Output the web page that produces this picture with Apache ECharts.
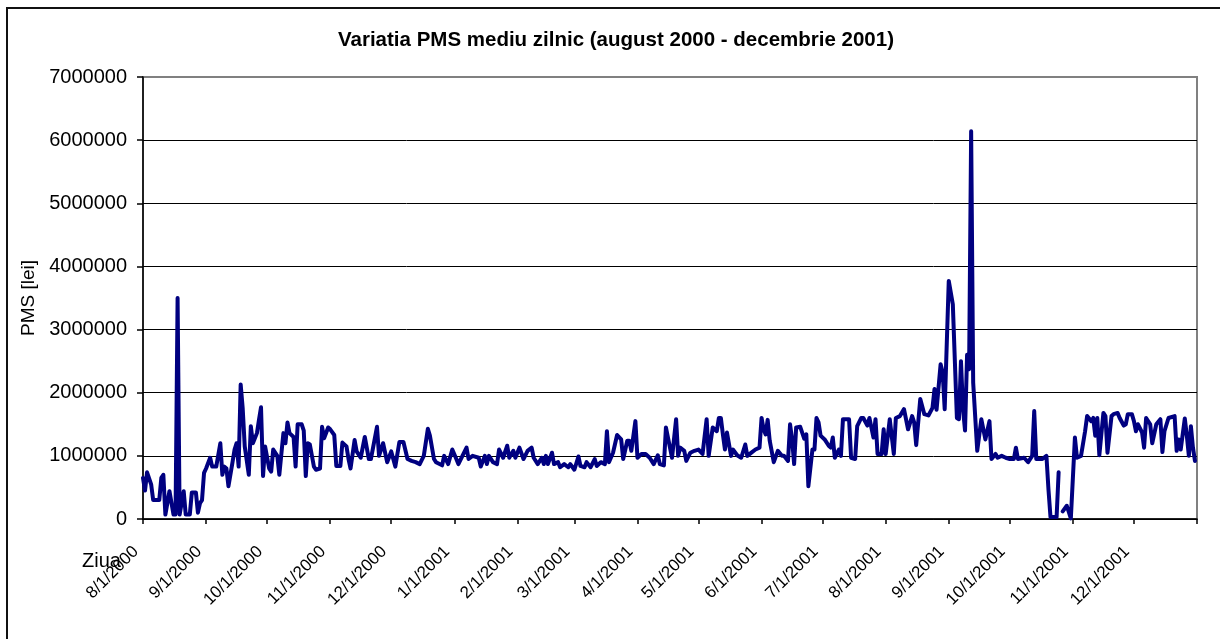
<!DOCTYPE html>
<html>
<head>
<meta charset="utf-8">
<script src="https://cdn.jsdelivr.net/npm/echarts@6/dist/echarts.min.js"></script>
<style>
  html, body { margin: 0; padding: 0; background: #fff; }
  #chart { width: 1220px; height: 639px; }
</style>
</head>
<body>
<div id="chart"></div>
<script>
// days counted from 8/1/2000 (index 0), values in lei
var days = [
  0, 1, 2, 4, 5, 8, 9, 10, 11, 13, 15, 16, 17, 18, 20, 21, 23, 24, 26, 27,
  28, 29, 30, 31, 33, 34, 36, 38, 39, 40, 41, 42, 44, 45, 46, 47, 48, 49, 50, 52,
  53, 54, 56, 57, 58, 59, 60, 62, 63, 64, 66, 67, 69, 70, 71, 72, 74, 75, 76, 78,
  79, 80, 81, 82, 84, 85, 87, 88, 89, 91, 92, 94, 95, 97, 98, 100, 101, 102, 104, 105,
  107, 109, 111, 112, 115, 116, 118, 120, 122, 124, 126, 128, 130, 132, 134, 136, 138, 140, 141, 143,
  144, 147, 148, 150, 152, 154, 155, 157, 159, 160, 162, 165, 166, 168, 169, 170, 172, 174, 175, 177,
  179, 180, 182, 183, 185, 187, 189, 191, 192, 194, 196, 197, 198, 199, 201, 202, 204, 205, 207, 209,
  210, 212, 214, 215, 217, 218, 220, 222, 223, 225, 227, 228, 229, 231, 233, 235, 236, 238, 239, 240,
  242, 243, 245, 247, 249, 251, 253, 254, 256, 257, 258, 260, 262, 263, 264, 266, 267, 269, 271, 273,
  275, 277, 278, 280, 282, 283, 284, 285, 286, 287, 289, 290, 292, 294, 296, 297, 299, 301, 303, 304,
  305, 306, 307, 308, 310, 312, 314, 315, 317, 318, 319, 320, 321, 323, 325, 326, 327, 329, 330, 331,
  332, 333, 335, 337, 338, 339, 340, 342, 343, 344, 347, 348, 350, 351, 353, 354, 356, 357, 359, 360,
  361, 363, 364, 365, 367, 369, 370, 372, 374, 376, 378, 379, 380, 382, 384, 386, 388, 389, 390, 392,
  393, 394, 396, 398, 400, 401, 402, 403, 404, 405, 406, 407, 408, 410, 412, 414, 416, 417, 419, 420,
  422, 424, 426, 428, 429, 430, 433, 435, 437, 438, 439, 442, 444, 445, 446, 449, 450, 451, 452, 454,
  456, 458, 459, 461, 463, 464, 466, 467, 468, 469, 470, 472, 473, 474, 476, 477, 479, 480, 482, 483,
  484, 486, 487, 488, 489, 491, 492, 493, 495, 496, 498, 500, 501, 502, 504, 507, 508, 509, 510, 512,
  513, 514, 515, 516, 517
];

var pms = [
  650000, 450000, 740000, 550000, 300000, 300000, 650000, 700000, 70000, 440000, 70000, 70000, 3500000, 70000, 440000, 70000, 70000, 420000, 420000, 100000,
  250000, 300000, 730000, 800000, 970000, 830000, 830000, 1200000, 700000, 830000, 800000, 520000, 900000, 1100000, 1200000, 830000, 2130000, 1750000, 1150000, 700000,
  1470000, 1200000, 1360000, 1570000, 1770000, 680000, 1150000, 800000, 750000, 1100000, 1000000, 700000, 1360000, 1200000, 1530000, 1360000, 1300000, 830000, 1500000, 1500000,
  1400000, 680000, 1200000, 1180000, 830000, 780000, 800000, 1460000, 1280000, 1450000, 1420000, 1330000, 840000, 840000, 1210000, 1150000, 950000, 800000, 1250000, 1070000,
  970000, 1300000, 950000, 950000, 1460000, 1000000, 1200000, 900000, 1070000, 830000, 1220000, 1220000, 950000, 920000, 900000, 870000, 1000000, 1430000, 1320000, 950000,
  900000, 850000, 1000000, 870000, 1100000, 950000, 870000, 1000000, 1130000, 950000, 1000000, 970000, 830000, 1000000, 870000, 1000000, 900000, 870000, 1100000, 970000,
  1160000, 970000, 1080000, 970000, 1130000, 950000, 1080000, 1130000, 970000, 870000, 970000, 870000, 1000000, 870000, 1050000, 870000, 900000, 820000, 870000, 820000,
  870000, 780000, 990000, 840000, 820000, 900000, 820000, 950000, 840000, 900000, 870000, 1390000, 900000, 1050000, 1330000, 1260000, 950000, 1240000, 1240000, 1080000,
  1550000, 970000, 1030000, 1030000, 970000, 870000, 1010000, 870000, 850000, 1450000, 1290000, 970000, 1580000, 1000000, 1130000, 1080000, 920000, 1050000, 1080000, 1100000,
  1030000, 1580000, 1000000, 1450000, 1390000, 1600000, 1600000, 1340000, 1100000, 1370000, 1000000, 1100000, 1010000, 970000, 1180000, 1000000, 1050000, 1100000, 1130000, 1600000,
  1420000, 1340000, 1570000, 1240000, 900000, 1080000, 1000000, 1000000, 920000, 1500000, 1260000, 870000, 1450000, 1460000, 1270000, 1340000, 520000, 1100000, 1100000, 1600000,
  1530000, 1320000, 1260000, 1160000, 1130000, 1290000, 970000, 1100000, 1000000, 1580000, 1580000, 970000, 950000, 1470000, 1600000, 1600000, 1480000, 1600000, 1290000, 1580000,
  1030000, 1030000, 1420000, 1030000, 1580000, 1030000, 1600000, 1630000, 1740000, 1420000, 1630000, 1530000, 1170000, 1900000, 1660000, 1640000, 1760000, 2060000, 1730000, 2450000,
  2320000, 1740000, 3770000, 3400000, 1600000, 1580000, 2500000, 1740000, 1400000, 2600000, 2370000, 6140000, 2160000, 1080000, 1580000, 1260000, 1550000, 950000, 1030000, 970000,
  1000000, 970000, 950000, 950000, 1130000, 950000, 970000, 900000, 1000000, 1710000, 950000, 950000, 1000000, 470000, 30000, 30000, 740000, null, 120000, 210000,
  10000, 1290000, 970000, 1000000, 1390000, 1630000, 1550000, 1600000, 1320000, 1600000, 1010000, 1680000, 1630000, 1050000, 1630000, 1660000, 1680000, 1600000, 1480000, 1500000,
  1660000, 1660000, 1550000, 1390000, 1500000, 1370000, 1130000, 1600000, 1500000, 1200000, 1500000, 1580000, 1060000, 1390000, 1600000, 1630000, 1080000, 1260000, 1100000, 1590000,
  1320000, 1000000, 1470000, 1130000, 920000
];

var yTicks = [0, 1000000, 2000000, 3000000, 4000000, 5000000, 6000000, 7000000];

// daily category axis 8/1/2000 .. 1/1/2002
var dates = [];
var start = Date.UTC(2000, 7, 1);
for (var i = 0; i <= 518; i++) {
  var d = new Date(start + i * 86400000);
  dates.push((d.getUTCMonth() + 1) + '/' + d.getUTCDate() + '/' + d.getUTCFullYear());
}
function monthStart(v) { return v.split('/')[1] === '1'; }

var seriesData = days.map(function (day, k) { return [dates[day], pms[k]]; });

var chart = echarts.init(document.getElementById('chart'));
var font = 'Liberation Sans, Arial, sans-serif';

var option = {
  animation: false,
  backgroundColor: '#fff',
  textStyle: { fontFamily: font },
  title: {
    text: 'Variatia PMS mediu zilnic (august 2000 - decembrie 2001)',
    left: 338,
    top: 30,
    padding: 0,
    textStyle: { fontFamily: font, fontSize: 20.5, fontWeight: 'bold', color: '#000' }
  },
  graphic: [
    {
      type: 'rect',
      shape: { x: 7, y: 8, width: 1400, height: 800 },
      style: { fill: 'none', stroke: '#111', lineWidth: 2 },
      silent: true, z: -1
    },
    {
      type: 'text',
      left: 82, top: 551,
      style: { text: 'Ziua', fontFamily: font, fontSize: 20, fill: '#000' }
    }
  ],
  grid: {
    left: 143, right: 23, top: 77, bottom: 120,
    show: true, borderColor: '#808080', borderWidth: 2, backgroundColor: '#fff'
  },
  xAxis: {
    type: 'category',
    data: dates,
    boundaryGap: false,
    axisLine: { lineStyle: { color: '#000', width: 1.5 } },
    axisTick: {
      interval: function (idx, v) { return monthStart(v); },
      length: 5,
      lineStyle: { color: '#000', width: 1.5 }
    },
    axisLabel: {
      interval: function (idx, v) { return monthStart(v) && idx < 518; },
      rotate: 45,
      margin: 23,
      padding: [0, 10, 0, 0],
      fontFamily: font,
      fontSize: 17,
      color: '#000'
    },
    splitLine: { show: false }
  },
  yAxis: {
    type: 'value',
    min: 0,
    max: 7000000,
    interval: 1000000,
    name: 'PMS [lei]',
    nameLocation: 'middle',
    nameGap: 99,
    nameTextStyle: { fontFamily: font, fontSize: 19, color: '#000' },
    axisLine: { show: true, lineStyle: { color: '#000', width: 1.5 } },
    axisTick: { show: true, length: 6, lineStyle: { color: '#000', width: 1.5 } },
    axisLabel: {
      margin: 16,
      fontFamily: font,
      fontSize: 20,
      color: '#000',
      formatter: function (v) { return yTicks.indexOf(v) >= 0 ? String(v) : ''; }
    },
    splitLine: {
      lineStyle: {
        color: ['#000', '#000', '#000', '#000', '#000', '#000', '#000', '#808080'],
        width: 1
      }
    }
  },
  series: [
    {
      type: 'line',
      name: 'PMS',
      data: seriesData,
      showSymbol: false,
      symbol: 'none',
      connectNulls: false,
      lineStyle: { color: '#000080', width: 4, join: 'round', cap: 'round' },
      itemStyle: { color: '#000080' }
    }
  ]
};

chart.setOption(option);
</script>
</body>
</html>
